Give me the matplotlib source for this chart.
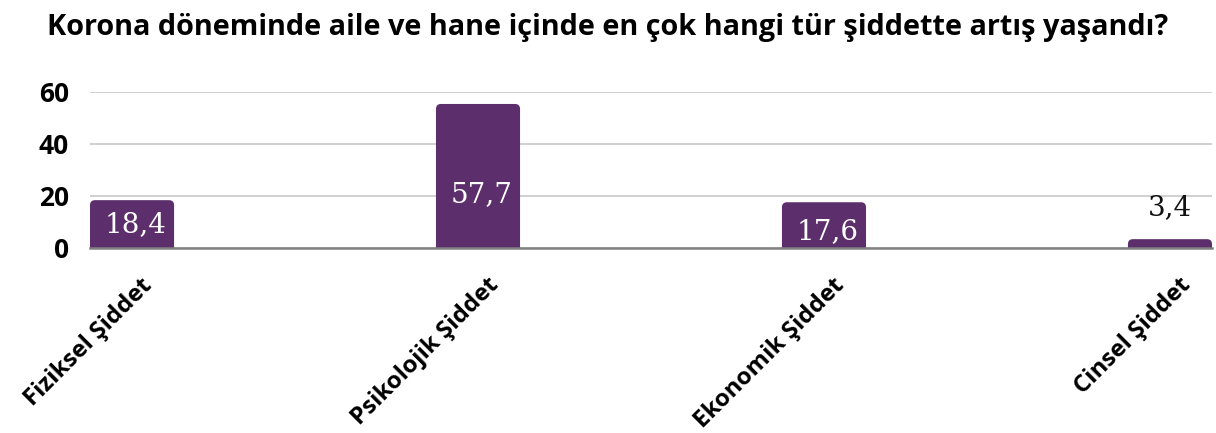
import matplotlib
matplotlib.use("Agg")
import matplotlib.pyplot as plt
import matplotlib.transforms as mtransforms
from matplotlib.patches import FancyBboxPatch

# Data
categories = ["Fiziksel Şiddet", "Psikolojik Şiddet", "Ekonomik Şiddet", "Cinsel Şiddet"]
values = [18.4, 57.7, 17.6, 3.4]          # printed labels
bar_heights = [18.4, 55.4, 17.6, 3.4]     # heights as drawn in the picture
y_ticks = [0, 20, 40, 60]
title = "Korona döneminde aile ve hane içinde en çok hangi tür şiddette artış yaşandı?"

bar_color = "#5C2E6C"
sans = ["Open Sans", "DejaVu Sans"]
serif = ["DejaVu Serif"]

fig = plt.figure(figsize=(12.16, 4.33), dpi=100)
ax = fig.add_axes([90 / 1216, 1 - 248 / 433, 1122 / 1216, (248 - 92) / 433])

width = 0.243
x = list(range(len(categories)))
bars = ax.bar(x, bar_heights, width=width, color=bar_color, zorder=3)

ax.set_xlim(-width / 2, len(categories) - 1 + width / 2)
ax.set_ylim(0, 60)

# rounded top corners: swap the plain rectangles for rounded boxes
px_x = (len(categories) - 1 + width) / 1122   # data units per pixel
px_y = 60 / 156
r = 5
for b in bars:
    b.set_visible(False)
    fb = FancyBboxPatch((b.get_x(), -r * px_y), b.get_width(), b.get_height() + r * px_y,
                        boxstyle=f"round,pad=0,rounding_size={r * px_x}",
                        mutation_aspect=px_y / px_x, facecolor=bar_color,
                        edgecolor="none", zorder=3)
    ax.add_patch(fb)

ax.set_yticks(y_ticks)
ax.set_yticklabels([str(t) for t in y_ticks], fontfamily=sans, fontweight="bold", fontsize=19)
ax.tick_params(axis="y", length=0, pad=15)
ax.tick_params(axis="x", length=0, pad=0)
ax.grid(axis="y", color="#C8C8C8", linewidth=1.2, zorder=0)
for s in ["top", "right", "left"]:
    ax.spines[s].set_visible(False)
ax.spines["bottom"].set_color("#808080")
ax.spines["bottom"].set_linewidth(1.8)
ax.spines["bottom"].set_zorder(4)

ax.set_xticks(x)
ax.set_xticklabels(categories, rotation=45, ha="right", va="center",
                   rotation_mode="anchor", fontfamily=sans, fontweight="bold", fontsize=17.3)
offset = mtransforms.ScaledTranslation(17 / 100, -34 / 100, fig.dpi_scale_trans)
for lab in ax.get_xticklabels():
    lab.set_transform(lab.get_transform() + offset)

# value labels: inside the bar for the tall ones, above for the small one
label_frac = [0.5, 0.37, 0.35, None]
for i, (v, h) in enumerate(zip(values, bar_heights)):
    txt = f"{v:.1f}".replace(".", ",")
    if label_frac[i] is None:
        ax.text(i, h + 12, txt, ha="center", va="center", color="#111111",
                fontfamily=serif, fontsize=20, zorder=5)
    else:
        ax.text(i + 0.01, h * label_frac[i], txt, ha="center", va="center", color="white",
                fontfamily=serif, fontsize=20, zorder=5)

fig.text(0.5, 1 - 27 / 433, title, ha="center", va="center",
         fontfamily=sans, fontweight="bold", fontsize=20.8)

fig.savefig("out.png", dpi=100)
